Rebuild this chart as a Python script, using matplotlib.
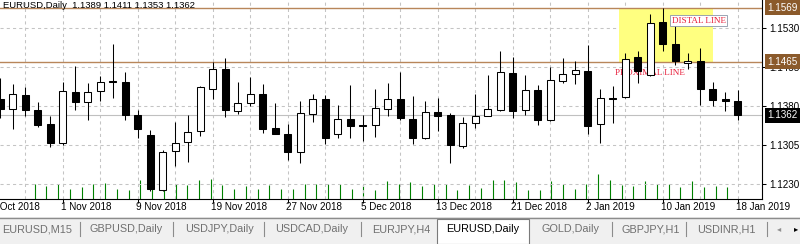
import numpy as np
import pandas as pd
import matplotlib
matplotlib.use('Agg')
import matplotlib.pyplot as plt
from matplotlib.patches import Rectangle
from matplotlib.lines import Line2D

plt.rcParams['font.family'] = ['Liberation Sans', 'DejaVu Sans']

# EURUSD daily bars, 25 Oct 2018 .. 18 Jan 2019 (no bars on 25 Dec / 1 Jan)
dates = pd.bdate_range('2018-10-25', '2019-01-18').drop(
    pd.to_datetime(['2018-12-25', '2019-01-01']))

opens = [1.1393, 1.1374, 1.1401, 1.1372, 1.1345, 1.1309, 1.1407, 1.1387, 1.1408, 1.1428,
         1.1426, 1.1362, 1.1324, 1.1219, 1.1293, 1.1310, 1.1332, 1.1413, 1.1452, 1.1370,
         1.1385, 1.1403, 1.1337, 1.1327, 1.1291, 1.1364, 1.1393, 1.1326, 1.1355, 1.1343,
         1.1344, 1.1375, 1.1393, 1.1355, 1.1318, 1.1368, 1.1363, 1.1303, 1.1347, 1.1361,
         1.1372, 1.1444, 1.1372, 1.1411, 1.1353, 1.1428, 1.1441, 1.1447, 1.1345, 1.1395,
         1.1397, 1.1474, 1.1440, 1.1541, 1.1499, 1.1462, 1.1467, 1.1412, 1.1393, 1.1389]
highs = [1.1433, 1.1422, 1.1417, 1.1388, 1.1361, 1.1426, 1.1457, 1.1425, 1.1438, 1.1499,
         1.1446, 1.1372, 1.1334, 1.1295, 1.1350, 1.1363, 1.1419, 1.1464, 1.1472, 1.1426,
         1.1435, 1.1422, 1.1385, 1.1345, 1.1390, 1.1403, 1.1401, 1.1381, 1.1421, 1.1363,
         1.1413, 1.1424, 1.1446, 1.1400, 1.1390, 1.1395, 1.1366, 1.1359, 1.1403, 1.1440,
         1.1485, 1.1474, 1.1440, 1.1420, 1.1454, 1.1472, 1.1467, 1.1497, 1.1413, 1.1418,
         1.1481, 1.1485, 1.1557, 1.1568, 1.1536, 1.1481, 1.1491, 1.1427, 1.1406, 1.1411]
lows = [1.1356, 1.1336, 1.1361, 1.1340, 1.1302, 1.1305, 1.1372, 1.1353, 1.1390, 1.1395,
        1.1353, 1.1318, 1.1216, 1.1217, 1.1265, 1.1272, 1.1322, 1.1393, 1.1359, 1.1365,
        1.1380, 1.1328, 1.1326, 1.1277, 1.1270, 1.1350, 1.1307, 1.1319, 1.1318, 1.1313,
        1.1321, 1.1361, 1.1353, 1.1307, 1.1316, 1.1332, 1.1271, 1.1300, 1.1337, 1.1361,
        1.1371, 1.1356, 1.1362, 1.1343, 1.1352, 1.1425, 1.1422, 1.1326, 1.1309, 1.1347,
        1.1396, 1.1424, 1.1438, 1.1485, 1.1459, 1.1451, 1.1382, 1.1379, 1.1371, 1.1353]
closes = [1.1374, 1.1403, 1.1372, 1.1343, 1.1309, 1.1409, 1.1388, 1.1406, 1.1426, 1.1426,
          1.1363, 1.1335, 1.1220, 1.1291, 1.1309, 1.1330, 1.1416, 1.1452, 1.1372, 1.1385,
          1.1403, 1.1335, 1.1327, 1.1291, 1.1367, 1.1394, 1.1318, 1.1354, 1.1341, 1.1342,
          1.1377, 1.1394, 1.1356, 1.1318, 1.1368, 1.1361, 1.1305, 1.1347, 1.1361, 1.1375,
          1.1445, 1.1370, 1.1411, 1.1353, 1.1430, 1.1441, 1.1449, 1.1341, 1.1395, 1.1393,
          1.1470, 1.1448, 1.1540, 1.1500, 1.1467, 1.1467, 1.1412, 1.1391, 1.1389, 1.1362]
volumes = [154, 130, 154, 104, 120, 154, 160, 104, 94, 187,
           154, 137, 154, 145, 194, 204, 137, 104, 127, 104,
           137, 104, 104, 154, 154, 154, 154, 104, 137, 94,
           180, 154, 170, 127, 154, 154, 94, 137, 114, 187,
           187, 170, 87, 87, 180, 154, 104, 154, 254, 187,
           137, 127, 180, 154, 147, 120, 180, 120, 127, 120]

price_ticks = [1.1530, 1.1455, 1.1380, 1.1305, 1.1230]
date_labels = ['24 Oct 2018', '1 Nov 2018', '9 Nov 2018', '19 Nov 2018', '27 Nov 2018',
               '5 Dec 2018', '13 Dec 2018', '21 Dec 2018', '2 Jan 2019', '10 Jan 2019',
               '18 Jan 2019']

distal = 1.1569
proximal = 1.1465
zone_from, zone_to = '2019-01-07', '2019-01-16'

tabs = ['EURUSD,M15', 'GBPUSD,Daily', 'USDJPY,Daily', 'USDCAD,Daily', 'EURJPY,H4',
        'EURUSD,Daily', 'GOLD,Daily', 'GBPJPY,H1', 'USDINR,H1']
active_tab = 'EURUSD,Daily'

# ---- layout (pixels of the 800x244 picture) ----
W, H = 800, 244
plot_right, plot_bottom = 762, 199
bar_px = 12.5
px_per_price = 5200.0
top_price = 1.15838
tab_x = [2, 89, 185, 275, 372, 446, 542, 622, 697]
sep_x = [80, 173, 264, 361, 612, 686, 767]
serif = ['Liberation Serif', 'DejaVu Serif']
zone_red = '#e8203c'


def fx(x):
    return x / W


def fy(y):
    return 1 - y / H


n = len(dates)
x = np.arange(n)
o, h, l, c = map(np.array, (opens, highs, lows, closes))

fig = plt.figure(figsize=(W / 100, H / 100), dpi=100)
rect = [0, fy(plot_bottom), fx(plot_right), plot_bottom / H]

# volume underneath the price bars
axv = fig.add_axes(rect)
axv.vlines(x, 0, volumes, color='#008000', lw=0.8)
axv.set_ylim(0, plot_bottom * 10)
axv.axis('off')

ax = fig.add_axes(rect)
ax.set_zorder(axv.get_zorder() + 1)
ax.patch.set_visible(False)

ax.set_xlim(-0.3 / bar_px, (plot_right - 0.3) / bar_px)
ax.set_ylim(top_price - plot_bottom / px_per_price, top_price)

# grid
grid_kw = dict(color='#c4c4c4', lw=0.75, ls=(0, (3, 3)), zorder=0.5)
for p in price_ticks:
    ax.axhline(p, **grid_kw)
for gi in range(n - 1, -1, -3):
    ax.axvline(gi, **grid_kw)

# supply zone
z0 = dates.get_loc(pd.Timestamp(zone_from)) - 0.5
z1 = dates.get_loc(pd.Timestamp(zone_to))
ax.add_patch(Rectangle((z0, proximal), z1 - z0, distal - proximal,
                       fc='#ffff80', ec='none', zorder=1))
ax.axhline(distal, color='#b8865a', lw=1.0, zorder=2)
ax.axhline(proximal, color='#b8865a', lw=1.0, zorder=2)
ax.axhline(c[-1], color='#c0c0c0', lw=0.8, zorder=1.5)

ax.text(dates.get_loc(pd.Timestamp('2019-01-04')) + 0.15, proximal - 11 / px_per_price,
        'PROXIMAL LINE', family=serif, fontsize=6.6, color=zone_red,
        va='center', ha='left', zorder=2.5)

# candles
ax.vlines(x, l, h, color='black', lw=0.75, zorder=4)
body = np.maximum(np.abs(c - o), 1 / px_per_price)
ax.bar(x, body, bottom=np.minimum(o, c), width=0.58,
       color=np.where(c >= o, 'white', 'black'), edgecolor='black', lw=0.75, zorder=5)

ax.text(dates.get_loc(pd.Timestamp('2019-01-11')) - 0.3, distal - 13 / px_per_price,
        'DISTAL LINE', family=serif, fontsize=6.6, color=zone_red,
        va='center', ha='left', zorder=6,
        bbox=dict(boxstyle='square,pad=0.15', fc='white', ec='#8a96a8', lw=0.6))

# axes
for s in ('top', 'left'):
    ax.spines[s].set_visible(False)
for s in ('bottom', 'right'):
    ax.spines[s].set_color('black')
    ax.spines[s].set_linewidth(0.8)

ax.yaxis.tick_right()
ax.set_yticks(price_ticks)
ax.set_yticklabels([f'{p:.4f}' for p in price_ticks])
ax.tick_params(axis='y', length=3, width=0.75, pad=2, labelsize=7.1, colors='black')

label_pos = list(range(n - 1, -2, -6))[::-1]
ax.set_xticks([p for p in label_pos if p >= 0])
ax.set_xticklabels([])
ax.tick_params(axis='x', length=3, width=0.75)
for pos, lbl in zip(label_pos, date_labels):
    ax.annotate(lbl, xy=(pos, 0), xycoords=ax.get_xaxis_transform(),
                xytext=(-2, -8.5), textcoords='offset pixels', ha='left', va='center',
                fontsize=7.1, annotation_clip=False)

# price boxes on the scale
for p, bg in ((distal, '#8b5a2b'), (proximal, '#8b5a2b'), (c[-1], 'black')):
    ax.annotate(f'{p:.4f}', xy=(1, p), xycoords=ax.get_yaxis_transform(),
                xytext=(5, 0), textcoords='offset pixels', ha='left', va='center',
                fontsize=7.1, color='white', annotation_clip=False, zorder=10,
                bbox=dict(boxstyle='square,pad=0.25', fc=bg, ec='none'))

fig.text(fx(3), fy(6), f'EURUSD,Daily  {o[-1]:.4f} {h[-1]:.4f} {l[-1]:.4f} {c[-1]:.4f}',
         fontsize=6.8, va='center', ha='left')

# tab strip
fig.add_artist(Rectangle((0, 0), 1, fy(217), transform=fig.transFigure,
                         fc='#f0f0f0', ec='none'))
fig.add_artist(Line2D([0, 1], [fy(218), fy(218)], transform=fig.transFigure,
                      color='#8c8c8c', lw=1))
fig.add_artist(Rectangle((fx(437), 0), fx(529) - fx(437), fy(219),
                         transform=fig.transFigure, fc='white', ec='#7a7a7a', lw=0.8))
for name, tx in zip(tabs, tab_x):
    fig.text(fx(tx), fy(229), name, fontsize=7.8, va='center', ha='left',
             color='black' if name == active_tab else '#707070')
for sx in sep_x:
    fig.add_artist(Line2D([fx(sx), fx(sx)], [fy(222), fy(236)], transform=fig.transFigure,
                          color='#8c8c8c', lw=0.8))
fig.text(fx(777), fy(229), '\u25c2', fontsize=6, color='#909090', va='center', ha='left',
         family='DejaVu Sans')
fig.text(fx(794), fy(229), '\u25b8', fontsize=6, color='black', va='center', ha='left',
         family='DejaVu Sans')

fig.savefig('out.png', dpi=100)
